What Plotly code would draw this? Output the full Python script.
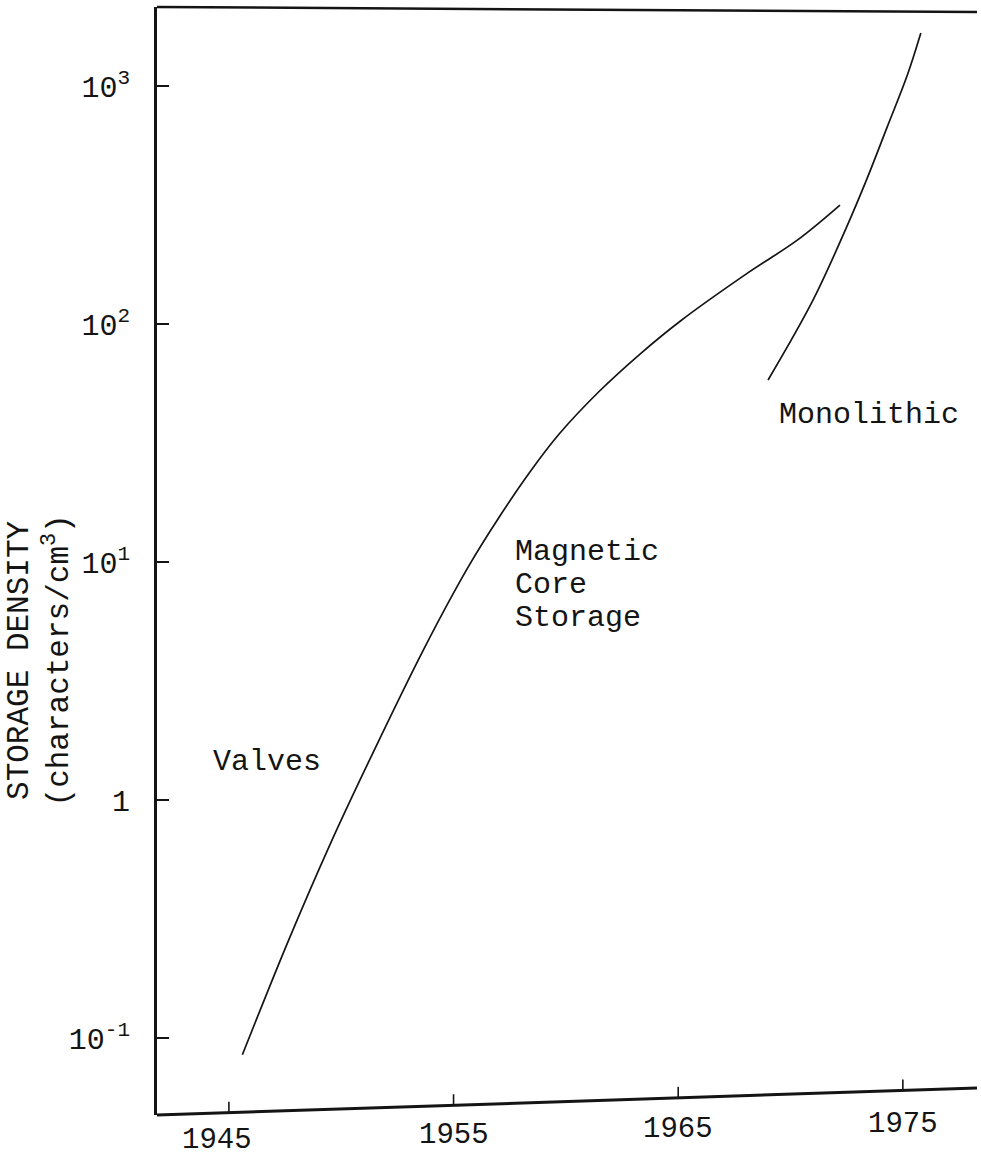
import numpy as np
import plotly.graph_objects as go

# Magnetic core storage (with valves at the low end)
core_years = [1945.6, 1947.6, 1949.5, 1951.3, 1953.7, 1955.7, 1957.1, 1958.4,
              1959.7, 1961.5, 1963.3, 1965.1, 1968.1, 1970.3, 1972.2]
core_density = [0.085, 0.25, 0.65, 1.50, 4.35, 9.7, 15.8, 23.9,
                34.5, 52.3, 74.8, 103, 164, 225, 316]

# Monolithic storage
mono_years = [1969.0, 1971.0, 1972.5, 1973.4, 1974.3, 1975.2, 1975.8]
mono_density = [58.2, 126, 256, 407, 672, 1112, 1670]

year_ticks = [1945, 1955, 1965, 1975]
density_ticks = [0.1, 1, 10, 100, 1000]
density_tick_text = ["10<sup>-1</sup>", "1", "10<sup>1</sup>", "10<sup>2</sup>", "10<sup>3</sup>"]

X_RANGE = [1941.8, 1978.3]
Y_RANGE = [-1.3235, 3.332]
FONT = "Liberation Mono"
INK = "#141414"

W, H = 981, 1158
M_L, M_R, M_T, M_B = 157, 4, 7, 43
plot_h = H - M_T - M_B

# the baseline rises slightly from left to right
BASE_RISE = 27 / plot_h
TOP_DROP = 5 / plot_h

fig = go.Figure()
for xs, ys in [(core_years, core_density), (mono_years, mono_density)]:
    fig.add_trace(go.Scatter(
        x=xs, y=ys, mode="lines",
        line=dict(color=INK, width=1.7, shape="spline", smoothing=1.0),
        showlegend=False, hoverinfo="skip",
    ))

shapes = [
    # bottom axis line
    dict(type="line", xref="paper", yref="paper", x0=0, y0=0, x1=1, y1=BASE_RISE,
         line=dict(color=INK, width=3)),
    # top frame line
    dict(type="line", xref="paper", yref="paper", x0=0, y0=1, x1=1, y1=1 - TOP_DROP,
         line=dict(color=INK, width=2.5)),
]

annotations = []
label_nudge = {1945: -12}
for yr in year_ticks:
    frac = (yr - X_RANGE[0]) / (X_RANGE[1] - X_RANGE[0])
    base = BASE_RISE * frac
    shapes.append(dict(type="line", xref="x", yref="paper", x0=yr, x1=yr,
                       y0=base, y1=base + 11 / plot_h,
                       line=dict(color=INK, width=1.6)))
    annotations.append(dict(x=yr, xref="x", yref="paper", y=base - (27 + 8 * frac) / plot_h,
                            xshift=label_nudge.get(yr, 0),
                            text=str(yr), showarrow=False, xanchor="center", yanchor="middle",
                            font=dict(family=FONT, size=29, color=INK)))

# axis title
annotations.append(dict(
    x=-0.143, y=0.41, xref="paper", yref="paper",
    text="STORAGE DENSITY<br>(characters/cm<sup>3</sup>)",
    textangle=-90, showarrow=False, xanchor="center", yanchor="middle",
    font=dict(family=FONT, size=31, color=INK),
))

# curve labels (y given as log10 on the log axis)
label_font = dict(family=FONT, size=30, color=INK)
annotations += [
    dict(x=1944.2, y=0.160, text="Valves", showarrow=False, xanchor="left",
         yanchor="middle", font=label_font),
    dict(x=1957.64, y=1.042, text="Magnetic", showarrow=False, xanchor="left",
         yanchor="middle", font=label_font),
    dict(x=1957.64, y=0.903, text="Core", showarrow=False, xanchor="left",
         yanchor="middle", font=label_font),
    dict(x=1957.64, y=0.765, text="Storage", showarrow=False, xanchor="left",
         yanchor="middle", font=label_font),
    dict(x=1969.39, y=1.618, text="Monolithic", showarrow=False, xanchor="left",
         yanchor="middle", font=label_font),
]

fig.update_layout(
    width=W, height=H,
    margin=dict(l=M_L, r=M_R, t=M_T, b=M_B, pad=0),
    paper_bgcolor="white", plot_bgcolor="white",
    shapes=shapes, annotations=annotations,
    xaxis=dict(range=X_RANGE, showgrid=False, zeroline=False, showline=False,
               showticklabels=False, ticks=""),
    yaxis=dict(type="log", range=Y_RANGE, showgrid=False, zeroline=False,
               showline=True, linecolor=INK, linewidth=3,
               tickmode="array", tickvals=density_ticks, ticktext=density_tick_text,
               ticks="inside", ticklen=12, tickwidth=2, tickcolor=INK,
               ticklabelstandoff=18,
               tickfont=dict(family=FONT, size=30, color=INK)),
)

fig.write_html("out.html")
